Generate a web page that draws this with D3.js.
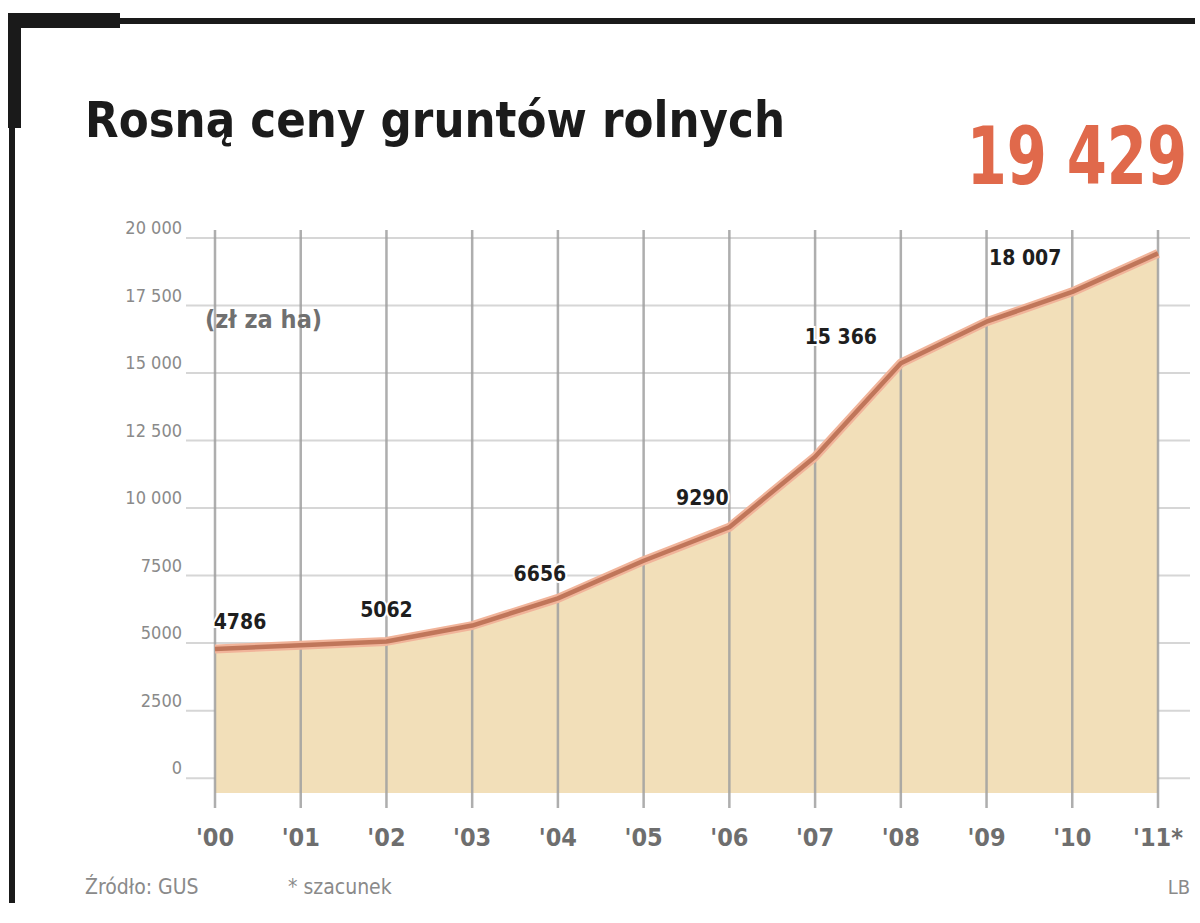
<!DOCTYPE html>
<html lang="pl">
<head>
  <meta charset="UTF-8">
  <title>Rosną ceny gruntów rolnych</title>
  <script src="https://d3js.org/d3.v7.min.js"></script>
  <style>
    body { margin: 0; background: #fff; }
    svg { display: block; }
    text { font-family: "DejaVu Sans Condensed", "Liberation Sans Narrow", "Liberation Sans", sans-serif; }
  </style>
</head>
<body>
  <svg id="chart" width="1200" height="923"></svg>

  <script>
    // data: average price of farmland, zł per ha
    const years = ["'00", "'01", "'02", "'03", "'04", "'05", "'06", "'07", "'08", "'09", "'10", "'11*"];
    const prices = [4786, 4920, 5062, 5650, 6656, 8050, 9290, 11900, 15366, 16900, 18007, 19429];
    const labelledYears = ["'00", "'02", "'04", "'06", "'08", "'10"];
    const priceLabels = ["4786", "5062", "6656", "9290", "15 366", "18 007"];
    const yTicks = [0, 2500, 5000, 7500, 10000, 12500, 15000, 17500, 20000];
    const yTickLabels = ["0", "2500", "5000", "7500", "10 000", "12 500", "15 000", "17 500", "20 000"];

    const svg = d3.select("#chart");

    // frame
    svg.append("rect").attr("x", 8).attr("y", 18).attr("width", 1187).attr("height", 6).attr("fill", "#1a1a1a");
    svg.append("rect").attr("x", 8).attr("y", 13).attr("width", 112).attr("height", 15).attr("fill", "#1a1a1a");
    svg.append("rect").attr("x", 8).attr("y", 13).attr("width", 13).attr("height", 115).attr("fill", "#1a1a1a");
    svg.append("rect").attr("x", 9).attr("y", 13).attr("width", 6).attr("height", 890).attr("fill", "#1a1a1a");

    // title + headline number
    svg.append("text")
      .attr("x", 85).attr("y", 137)
      .attr("textLength", 700).attr("lengthAdjust", "spacingAndGlyphs")
      .style("font-size", "50px").style("font-weight", "bold").style("fill", "#1b1b1b")
      .text("Rosną ceny gruntów rolnych");

    svg.append("g")
      .attr("transform", "translate(1187,184) scale(0.8,1)")
      .append("text")
      .attr("text-anchor", "end")
      .style("font-size", "80px").style("font-weight", "bold").style("fill", "#e0694b")
      .text("19 429");

    const x = d3.scalePoint().domain(years).range([215, 1158]);
    const y = d3.scaleLinear().domain([-550, 20000]).range([793, 238]);

    // horizontal grid + y labels
    const yAxis = svg.append("g");
    yAxis.selectAll("line").data(yTicks).enter().append("line")
      .attr("x1", 186).attr("x2", 1190)
      .attr("y1", d => y(d)).attr("y2", d => y(d))
      .attr("stroke", "#d6d6d6").attr("stroke-width", 2);
    yAxis.selectAll("text").data(yTicks).enter().append("text")
      .attr("x", 182).attr("y", d => y(d) - 4)
      .attr("text-anchor", "end")
      .style("font-size", "18px").style("fill", "#8a8a8a")
      .text((d, i) => yTickLabels[i]);

    // filled area
    const area = d3.area()
      .x((d, i) => x(years[i]))
      .y0(y(-550))
      .y1(d => y(d));
    svg.append("path").datum(prices)
      .attr("d", area)
      .attr("fill", "#f2dfb9");

    // vertical grid
    svg.append("g").selectAll("line").data(years).enter().append("line")
      .attr("x1", d => x(d)).attr("x2", d => x(d))
      .attr("y1", 230).attr("y2", 808)
      .attr("stroke", "#a0a0a0").attr("stroke-width", 2.5)
      .attr("opacity", 0.85);

    // unit
    svg.append("text")
      .attr("x", 205).attr("y", 328)
      .style("font-size", "25px").style("font-weight", "bold").style("fill", "#707070")
      .text("(zł za ha)");

    // price line
    const line = d3.line()
      .x((d, i) => x(years[i]))
      .y(d => y(d));
    svg.append("path").datum(prices)
      .attr("d", line)
      .attr("fill", "none")
      .attr("stroke", "#f1b49a").attr("stroke-width", 9)
      .attr("stroke-linejoin", "round");
    svg.append("path").datum(prices)
      .attr("d", line)
      .attr("fill", "none")
      .attr("stroke", "#c0765a").attr("stroke-width", 4.5)
      .attr("stroke-linejoin", "round");

    // value labels
    const labelShift = [25, 0, -18, -27, -60, -47];
    const labelLift = [20, 24, 17, 22, 19, 27];
    svg.append("g").selectAll("text").data(labelledYears).enter().append("text")
      .attr("x", (d, i) => x(d) + labelShift[i])
      .attr("y", (d, i) => y(prices[years.indexOf(d)]) - labelLift[i])
      .attr("text-anchor", "middle")
      .style("font-size", "21px").style("font-weight", "bold").style("fill", "#1e1e1e")
      .style("paint-order", "stroke").style("stroke", "#fff").style("stroke-width", 4)
      .text((d, i) => priceLabels[i]);

    // x labels
    svg.append("g").selectAll("text").data(years).enter().append("text")
      .attr("x", d => x(d)).attr("y", 846)
      .attr("text-anchor", "middle")
      .style("font-size", "25px").style("font-weight", "bold").style("fill", "#6e6e6e")
      .text(d => d);

    // footer
    svg.append("text").attr("x", 85).attr("y", 894)
      .style("font-size", "21px").style("fill", "#8a8a8a")
      .text("Źródło: GUS");
    svg.append("text").attr("x", 288).attr("y", 894)
      .style("font-size", "21px").style("fill", "#8a8a8a")
      .text("* szacunek");
    svg.append("text").attr("x", 1190).attr("y", 894)
      .attr("text-anchor", "end")
      .style("font-size", "20px").style("fill", "#8a8a8a")
      .text("LB");
  </script>
</body>
</html>
